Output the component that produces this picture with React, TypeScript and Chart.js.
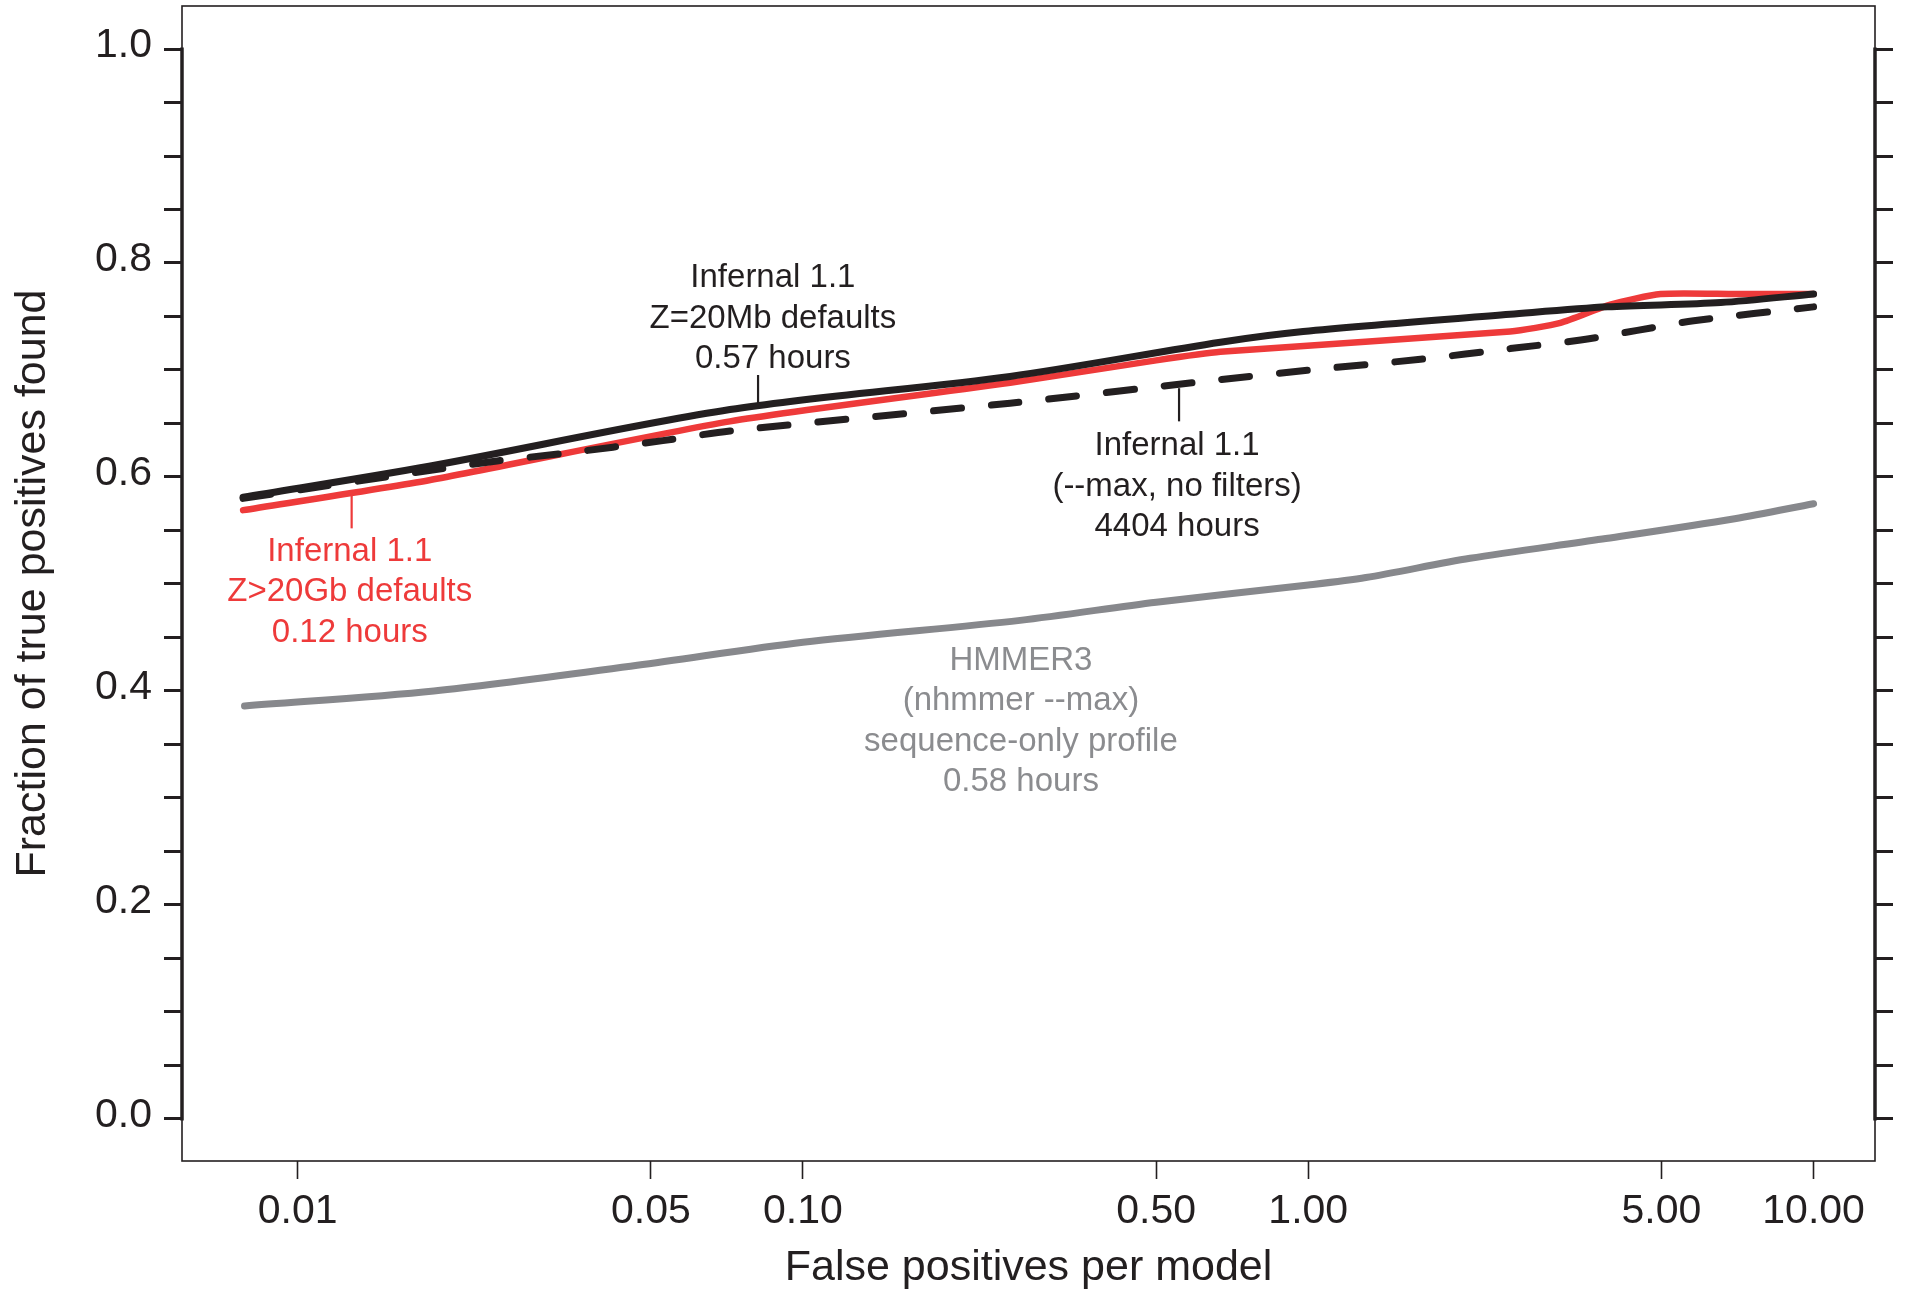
import { useEffect, useRef } from 'react';
import { Chart, registerables } from 'chart.js';

Chart.register(...registerables);

// ---- data (false positives per model vs fraction of true positives found) ----
const fprZ20Mb = [0.0078, 0.0182, 0.0717, 0.257, 0.67, 0.977, 2.51, 3.91, 6.55, 10];
const tprZ20Mb = [0.581, 0.61, 0.663, 0.694, 0.726, 0.736, 0.752, 0.759, 0.763, 0.771];

const fprZ20Gb = [0.0078, 0.0182, 0.0717, 0.257, 0.5, 0.67, 2.51, 3.155, 3.96, 4.98, 7, 10];
const tprZ20Gb = [0.569, 0.597, 0.652, 0.688, 0.709, 0.717, 0.736, 0.744, 0.761, 0.771, 0.771, 0.771];

const fprMaxNoFilter = [0.0078, 0.0182, 0.0248, 0.0335, 0.0528, 0.0717, 0.257, 0.67, 1.06, 1.667, 2.51, 3.46, 4.48, 5.79, 10];
const tprMaxNoFilter = [0.58, 0.606, 0.615, 0.622, 0.634, 0.643, 0.669, 0.691, 0.701, 0.71, 0.72, 0.728, 0.737, 0.746, 0.759];

const fprHmmer3 = [0.00785, 0.0186, 0.047, 0.1, 0.269, 0.5, 1.0, 1.3, 2.09, 3.82, 6.98, 10];
const tprHmmer3 = [0.386, 0.4, 0.424, 0.4455, 0.466, 0.483, 0.499, 0.506, 0.524, 0.542, 0.561, 0.575];

const xTickValues = [0.01, 0.05, 0.1, 0.5, 1, 5, 10];
const xTickLabels = ['0.01', '0.05', '0.10', '0.50', '1.00', '5.00', '10.00'];

const yTickValues = [0, 0.05, 0.1, 0.15, 0.2, 0.25, 0.3, 0.35, 0.4, 0.45, 0.5, 0.55, 0.6, 0.65, 0.7, 0.75, 0.8, 0.85, 0.9, 0.95, 1];
const yLabelledTicks = [0, 0.2, 0.4, 0.6, 0.8, 1];

const seriesNames = ['HMMER3', 'Infernal 1.1 (--max, no filters)', 'Infernal 1.1 Z=20Mb defaults', 'Infernal 1.1 Z>20Gb defaults'];

// ---- styling ----
const BLACK = '#231f20';
const RED = '#ee3a3a';
const GRAY = '#87888c';
const GRAY_TEXT = '#8b8c8f';
const FONT = '"Liberation Sans", Arial, Helvetica, sans-serif';

const X_MIN = 0.005904;
const X_MAX = 13.23;
const Y_MIN = -0.0393;
const Y_MAX = 1.0402;

const annotations = [
  { lines: ['Infernal 1.1', 'Z=20Mb defaults', '0.57 hours'], x: 0.0872, y: 0.786, color: BLACK, px: 0.0815, py1: 0.6953, py2: 0.6692 },
  { lines: ['Infernal 1.1', '(--max, no filters)', '4404 hours'], x: 0.55, y: 0.629, color: BLACK, px: 0.555, py1: 0.683, py2: 0.652 },
  { lines: ['Infernal 1.1', 'Z>20Gb defaults', '0.12 hours'], x: 0.01268, y: 0.53, color: RED, px: 0.01279, py1: 0.584, py2: 0.552 },
  { lines: ['HMMER3', '(nhmmer --max)', 'sequence-only profile', '0.58 hours'], x: 0.27, y: 0.4285, color: GRAY_TEXT, px: null, py1: 0, py2: 0 },
];

const pts = (xs: number[], ys: number[]) => xs.map((x, i) => ({ x, y: ys[i] }));

const framePlugin = {
  id: 'frame',
  beforeDatasetsDraw(chart: any) {
    const { ctx, chartArea, scales } = chart;
    const { left, right, top, bottom } = chartArea;
    ctx.save();
    ctx.strokeStyle = BLACK;
    ctx.lineWidth = 1.6;
    ctx.strokeRect(left, top, right - left, bottom - top);
    const y0 = scales.y.getPixelForValue(0);
    const y1 = scales.y.getPixelForValue(1);
    ctx.lineWidth = 3.5;
    ctx.beginPath();
    ctx.moveTo(left, y1 - 1.5);
    ctx.lineTo(left, y0 + 1.5);
    ctx.moveTo(right, y1 - 1.5);
    ctx.lineTo(right, y0 + 1.5);
    ctx.stroke();
    ctx.restore();
  },
  afterDatasetsDraw(chart: any) {
    const { ctx, scales } = chart;
    const xs = scales.x;
    const ys = scales.y;
    ctx.save();
    ctx.font = `33px ${FONT}`;
    ctx.textAlign = 'center';
    ctx.textBaseline = 'middle';
    for (const a of annotations) {
      ctx.fillStyle = a.color;
      const cx = xs.getPixelForValue(a.x);
      const cy = ys.getPixelForValue(a.y);
      a.lines.forEach((t, i) => ctx.fillText(t, cx, cy + i * 40.5));
      if (a.px !== null) {
        ctx.strokeStyle = a.color;
        ctx.lineWidth = 2.2;
        const px = xs.getPixelForValue(a.px);
        ctx.beginPath();
        ctx.moveTo(px, ys.getPixelForValue(a.py1));
        ctx.lineTo(px, ys.getPixelForValue(a.py2));
        ctx.stroke();
      }
    }
    ctx.restore();
  },
};

export default function App() {
  const ref = useRef<HTMLCanvasElement | null>(null);

  useEffect(() => {
    if (!ref.current) return;
    const common = {
      fill: false,
      pointRadius: 0,
      borderWidth: 7,
      borderCapStyle: 'round' as const,
      borderJoinStyle: 'round' as const,
      tension: 0.3,
    };
    const chart = new Chart(ref.current, {
      type: 'line',
      data: {
        datasets: [
          { ...common, label: seriesNames[0], data: pts(fprHmmer3, tprHmmer3), borderColor: GRAY },
          { ...common, label: seriesNames[1], data: pts(fprMaxNoFilter, tprMaxNoFilter), borderColor: BLACK, borderDash: [28, 30] },
          { ...common, label: seriesNames[2], data: pts(fprZ20Mb, tprZ20Mb), borderColor: BLACK },
          { ...common, label: seriesNames[3], data: pts(fprZ20Gb, tprZ20Gb), borderColor: RED, borderWidth: 6.5, tension: 0.2 },
        ],
      },
      options: {
        responsive: false,
        animation: false,
        events: [],
        layout: { padding: { top: 6, left: 0, right: 0, bottom: 0 } },
        plugins: { legend: { display: false }, tooltip: { enabled: false }, title: { display: false } },
        scales: {
          x: {
            type: 'logarithmic',
            min: X_MIN,
            max: X_MAX,
            afterBuildTicks: (s: any) => { s.ticks = xTickValues.map((v) => ({ value: v })); },
            afterFit: (s: any) => { s.height = 134; s.paddingLeft = 0; s.paddingRight = 0; },
            ticks: {
              autoSkip: false,
              maxRotation: 0,
              padding: 8,
              color: BLACK,
              font: { family: FONT, size: 41 },
              callback: (_v: any, i: number) => xTickLabels[i],
            },
            grid: { drawOnChartArea: false, drawTicks: true, tickLength: 18, tickWidth: 1.6, tickColor: BLACK },
            border: { display: false },
            title: { display: true, text: 'False positives per model', color: BLACK, font: { family: FONT, size: 43 }, padding: { top: 0, bottom: 1 } },
          },
          y: {
            type: 'linear',
            position: 'left',
            min: Y_MIN,
            max: Y_MAX,
            afterBuildTicks: (s: any) => { s.ticks = yTickValues.map((v) => ({ value: v })); },
            afterFit: (s: any) => { s.width = 182; s.paddingTop = 0; s.paddingBottom = 0; },
            ticks: {
              autoSkip: false,
              padding: 12,
              labelOffset: -3,
              color: BLACK,
              font: { family: FONT, size: 41 },
              callback: (v: any) => {
                const n = Number(v);
                return yLabelledTicks.some((t) => Math.abs(t - n) < 1e-6) ? n.toFixed(1) : '';
              },
            },
            grid: { drawOnChartArea: false, drawTicks: true, tickLength: 18, tickWidth: 3, tickColor: BLACK },
            border: { display: false },
            title: { display: true, text: 'Fraction of true positives found', color: BLACK, font: { family: FONT, size: 43 }, padding: { top: 7, bottom: 0 } },
          },
          y2: {
            type: 'linear',
            position: 'right',
            min: Y_MIN,
            max: Y_MAX,
            afterBuildTicks: (s: any) => { s.ticks = yTickValues.map((v) => ({ value: v })); },
            afterFit: (s: any) => { s.width = 33; s.paddingTop = 0; s.paddingBottom = 0; },
            ticks: { display: false },
            grid: { drawOnChartArea: false, drawTicks: true, tickLength: 18, tickWidth: 3, tickColor: BLACK },
            border: { display: false },
          },
        },
      },
      plugins: [framePlugin],
    } as any);
    return () => chart.destroy();
  }, []);

  return (
    <div style={{ position: 'absolute', left: 0, top: 0, width: 1908, height: 1295, background: '#fff' }}>
      <canvas ref={ref} width={1908} height={1295} style={{ display: 'block', width: 1908, height: 1295 }} />
    </div>
  );
}
